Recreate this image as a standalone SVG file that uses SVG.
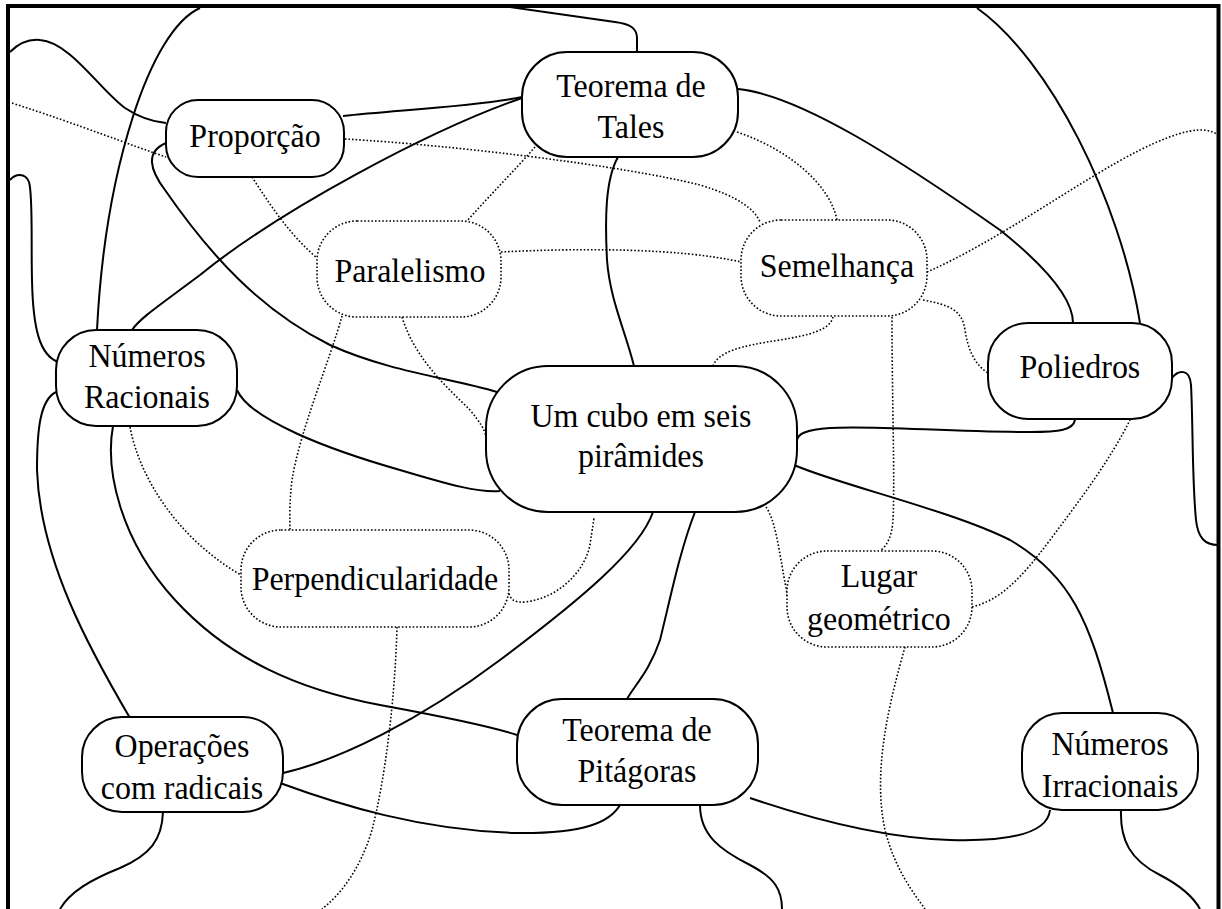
<svg xmlns="http://www.w3.org/2000/svg" width="1222" height="909" viewBox="0 0 1222 909">
<style>
.solid{fill:none;stroke:#000;stroke-width:2}
.dot{fill:none;stroke:#000;stroke-width:1.6;stroke-dasharray:1.6 2}
.nb{fill:#fff;stroke:#000;stroke-width:2}
.nd{fill:#fff;stroke:#000;stroke-width:1.6;stroke-dasharray:1.6 2}
text{font-family:"Liberation Serif","Times New Roman",serif;font-size:34px;fill:#000;text-anchor:middle}
</style>
<rect x="0" y="0" width="1222" height="909" fill="#fff"/>
<g id="connectors">
<path class="solid" d="M637,52 L637,38 C637,28 630,24 615,22 L502,6"/>
<path class="solid" d="M200,8 C150,30 105,170 97,330"/>
<path class="solid" d="M10,52 C20,42 30,39 40,40 C70,42 100,90 125,108 C140,118 155,122 166,123"/>
<path class="solid" d="M10,180 C15,174 25,172 29,182 C33,195 31,240 32,280 C33,330 40,355 58,362"/>
<path class="solid" d="M166,143 C145,152 150,170 165,190 C210,255 260,310 330,345 C390,372 450,378 497,392"/>
<path class="solid" d="M522,98 C430,130 280,210 200,275 C160,305 140,318 132,330"/>
<path class="solid" d="M343,116 C400,110 480,106 522,97"/>
<path class="solid" d="M618,157 C605,180 605,220 607,260 C610,300 625,330 634,366"/>
<path class="solid" d="M738,89 C800,95 900,160 1000,230 C1050,270 1073,300 1073,323"/>
<path class="solid" d="M977,8 C1050,60 1120,200 1140,323"/>
<path class="solid" d="M1172,378 C1178,370 1190,368 1191,385 C1193,420 1192,480 1196,520 C1198,538 1205,545 1218,545"/>
<path class="solid" d="M1075,420 C1073,430 1060,432 1030,432 C950,432 870,425 830,428 C805,430 798,434 797,440"/>
<path class="solid" d="M794,465 C840,485 950,510 1010,540 C1070,575 1090,620 1113,713"/>
<path class="solid" d="M237,390 C250,420 330,450 400,470 C450,485 480,493 500,491"/>
<path class="solid" d="M56,392 C40,400 37,430 37,470 C40,560 90,650 130,718"/>
<path class="solid" d="M113,426 C105,470 120,540 175,600 C230,660 300,690 380,705 C440,716 490,726 517,735"/>
<path class="solid" d="M653,512 C640,550 580,600 500,660 C420,720 340,760 283,773"/>
<path class="solid" d="M695,512 C680,550 670,600 660,640 C650,670 635,685 627,699"/>
<path class="solid" d="M280,783 C340,805 420,830 515,833 C585,834 610,822 620,805"/>
<path class="solid" d="M700,805 C700,835 720,850 750,865 C775,878 782,890 782,909"/>
<path class="solid" d="M750,798 C800,815 880,838 950,840 C1020,842 1048,830 1050,810"/>
<path class="solid" d="M1121,810 C1120,840 1130,860 1160,875 C1185,888 1195,900 1200,909"/>
<path class="solid" d="M163,812 C162,840 150,855 120,868 C90,880 70,892 60,909"/>
<path class="dot" d="M12,103 C80,125 130,145 166,157"/>
<path class="dot" d="M345,139 C450,145 620,165 700,185 C740,197 755,210 760,222"/>
<path class="dot" d="M252,177 C270,205 290,235 317,258"/>
<path class="dot" d="M535,147 C515,170 490,195 467,221"/>
<path class="dot" d="M737,132 C790,150 830,185 837,220"/>
<path class="dot" d="M501,252 C580,248 680,248 741,262"/>
<path class="dot" d="M927,272 C1000,240 1080,180 1140,150 C1180,130 1205,125 1218,135"/>
<path class="dot" d="M923,300 C950,305 962,310 965,330 C968,350 975,365 988,373"/>
<path class="dot" d="M833,317 C830,330 810,335 780,340 C740,346 718,352 713,366"/>
<path class="dot" d="M892,317 C892,400 895,480 893,520 C892,535 888,545 880,551"/>
<path class="dot" d="M342,316 C330,360 300,430 292,480 C289,505 290,520 290,530"/>
<path class="dot" d="M402,317 C415,360 450,390 470,410 C480,422 485,430 486,437"/>
<path class="dot" d="M130,427 C140,480 180,540 241,575"/>
<path class="dot" d="M508,590 C510,600 515,603 525,602 C560,598 585,570 590,545 C592,530 594,520 594,517"/>
<path class="dot" d="M397,627 C395,700 385,780 372,830 C360,870 340,895 322,909"/>
<path class="dot" d="M766,507 C775,520 778,545 782,565 C784,580 787,590 787,595"/>
<path class="dot" d="M972,607 C1000,600 1020,580 1050,540 C1080,500 1110,460 1130,420"/>
<path class="dot" d="M905,647 C890,700 872,770 885,830 C895,870 915,895 925,909"/>
</g>
<g id="n-proporcao"><rect class="nb" x="166" y="100" width="178" height="77" rx="32"/><text transform="scale(0.94,1)" x="271.3" y="147">Proporção</text></g>
<g id="n-tales"><rect class="nb" x="522" y="52" width="216" height="105" rx="45"/><text transform="scale(0.94,1)" x="671.3" y="97">Teorema de</text><text transform="scale(0.94,1)" x="671.3" y="138">Tales</text></g>
<g id="n-paralelismo"><rect class="nd" x="317" y="221" width="184" height="96" rx="40"/><text transform="scale(0.94,1)" x="436.2" y="282">Paralelismo</text></g>
<g id="n-semelhanca"><rect class="nd" x="741" y="220" width="186" height="96" rx="40"/><text transform="scale(0.94,1)" x="890.4" y="277">Semelhança</text></g>
<g id="n-poliedros"><rect class="nb" x="988" y="323" width="184" height="96" rx="40"/><text transform="scale(0.94,1)" x="1148.9" y="378">Poliedros</text></g>
<g id="n-racionais"><rect class="nb" x="56" y="330" width="181" height="96" rx="40"/><text transform="scale(0.94,1)" x="156.4" y="367">Números</text><text transform="scale(0.94,1)" x="156.4" y="408">Racionais</text></g>
<g id="n-cubo"><rect class="nb" x="486" y="366" width="311" height="146" rx="62"/><text transform="scale(0.94,1)" x="681.9" y="427">Um cubo em seis</text><text transform="scale(0.94,1)" x="681.9" y="467">pirâmides</text></g>
<g id="n-perpendicularidade"><rect class="nd" x="241" y="530" width="268" height="97" rx="40"/><text transform="scale(0.94,1)" x="398.9" y="590">Perpendicularidade</text></g>
<g id="n-lugar"><rect class="nd" x="787" y="551" width="185" height="96" rx="40"/><text transform="scale(0.94,1)" x="935.1" y="587">Lugar</text><text transform="scale(0.94,1)" x="935.1" y="630">geométrico</text></g>
<g id="n-operacoes"><rect class="nb" x="82" y="717" width="201" height="95" rx="40"/><text transform="scale(0.94,1)" x="193.6" y="757">Operações</text><text transform="scale(0.94,1)" x="193.6" y="799">com radicais</text></g>
<g id="n-pitagoras"><rect class="nb" x="517" y="699" width="241" height="106" rx="45"/><text transform="scale(0.94,1)" x="677.7" y="741">Teorema de</text><text transform="scale(0.94,1)" x="677.7" y="782">Pitágoras</text></g>
<g id="n-irracionais"><rect class="nb" x="1022" y="713" width="176" height="97" rx="40"/><text transform="scale(0.94,1)" x="1180.9" y="755">Números</text><text transform="scale(0.94,1)" x="1180.9" y="797">Irracionais</text></g>
<path d="M8,920 L8,6 L1218.5,6 L1218.5,920" fill="none" stroke="#000" stroke-width="4"/>
</svg>
